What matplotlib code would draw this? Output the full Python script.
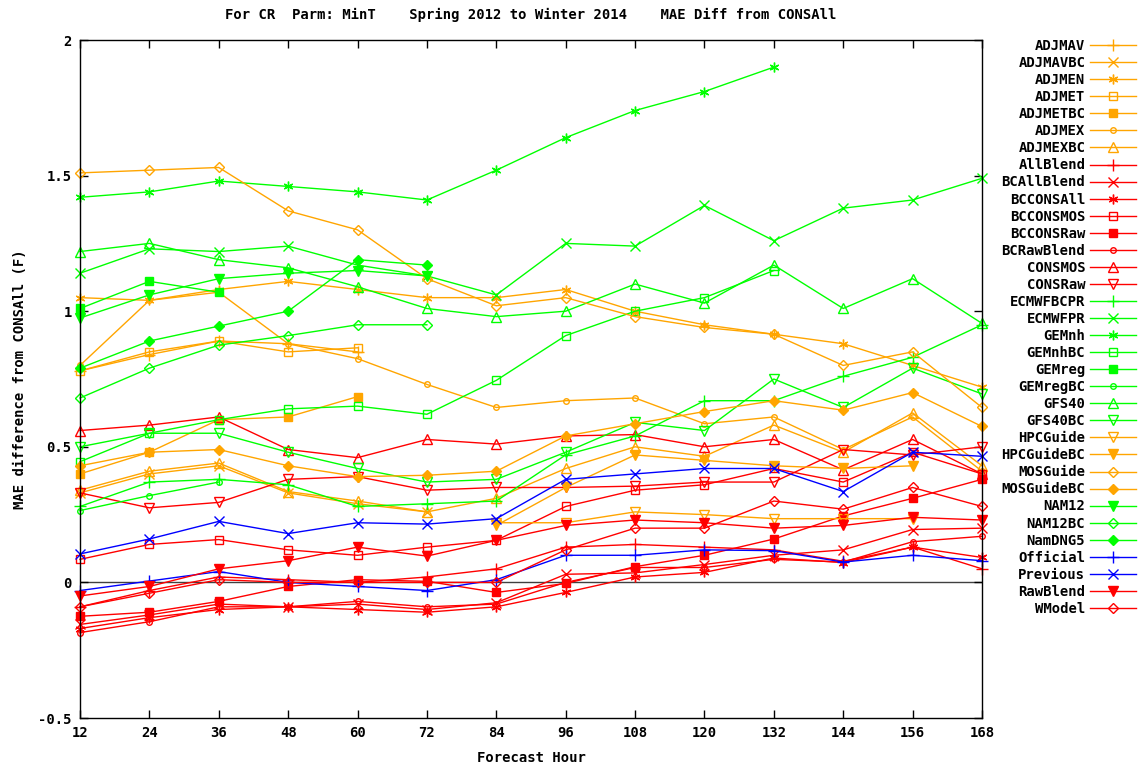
import numpy as np
import matplotlib
matplotlib.use('Agg')
from matplotlib import pyplot as plt

nan = np.nan

hours = [12, 24, 36, 48, 60, 72, 84, 96, 108, 120, 132, 144, 156, 168]

# MAE difference from CONSAll, one list per guidance (nan = no data)
ADJMAV = [0.78, 0.84, 0.89, 0.88, 0.85, nan, nan, nan, nan, nan, nan, nan, nan, nan]
ADJMAVBC = [0.33, 0.40, 0.43, 0.33, 0.29, 0.26, nan, nan, nan, nan, nan, nan, nan, nan]
ADJMEN = [1.05, 1.04, 1.08, 1.11, 1.08, 1.05, 1.05, 1.08, 1.00, 0.95, 0.915, 0.88, 0.80, 0.72]
ADJMET = [0.78, 0.85, 0.89, 0.85, 0.865, nan, nan, nan, nan, nan, nan, nan, nan, nan]
ADJMETBC = [0.40, 0.48, 0.60, 0.61, 0.685, nan, nan, nan, nan, nan, nan, nan, nan, nan]
ADJMEX = [0.80, 1.04, 1.07, 0.88, 0.825, 0.73, 0.645, 0.67, 0.68, 0.585, 0.61, 0.49, 0.61, 0.41]
ADJMEXBC = [0.34, 0.41, 0.44, 0.335, 0.30, 0.26, 0.31, 0.42, 0.50, 0.465, 0.58, 0.48, 0.625, 0.43]
AllBlend = [-0.09, -0.03, 0.02, 0.01, 0.0, 0.02, 0.05, 0.13, 0.14, 0.13, 0.12, 0.078, 0.13, 0.05]
BCAllBlend = [-0.155, -0.12, -0.08, -0.09, -0.08, -0.10, -0.075, 0.03, 0.035, 0.066, 0.10, 0.12, 0.195, 0.20]
BCCONSAll = [-0.17, -0.13, -0.10, -0.09, -0.10, -0.11, -0.09, -0.037, 0.02, 0.037, 0.09, 0.073, 0.13, 0.092]
BCCONSMOS = [0.085, 0.14, 0.158, 0.12, 0.10, 0.13, 0.155, 0.28, 0.34, 0.36, 0.42, 0.37, 0.48, 0.40]
BCCONSRaw = [-0.125, -0.11, -0.07, -0.015, 0.01, 0.004, -0.037, -0.004, 0.058, 0.10, 0.16, 0.245, 0.31, 0.38]
BCRawBlend = [-0.185, -0.145, -0.09, -0.09, -0.07, -0.09, -0.08, 0.0, 0.055, 0.055, 0.085, 0.075, 0.15, 0.17]
CONSMOS = [0.56, 0.58, 0.61, 0.49, 0.46, 0.527, 0.51, 0.54, 0.545, 0.50, 0.527, 0.415, 0.527, 0.40]
CONSRaw = [0.33, 0.275, 0.295, 0.38, 0.39, 0.34, 0.35, 0.35, 0.355, 0.37, 0.37, 0.49, 0.47, 0.50]
ECMWFBCPR = [0.28, 0.37, 0.38, 0.36, 0.28, 0.29, 0.30, 0.47, 0.54, 0.67, 0.67, 0.76, 0.83, 0.95]
ECMWFPR = [1.14, 1.23, 1.22, 1.24, 1.17, 1.13, 1.06, 1.25, 1.24, 1.39, 1.26, 1.38, 1.41, 1.49]
GEMnh = [1.42, 1.44, 1.48, 1.46, 1.44, 1.41, 1.52, 1.64, 1.74, 1.81, 1.90, nan, nan, nan]
GEMnhBC = [0.445, 0.55, 0.60, 0.64, 0.65, 0.62, 0.745, 0.91, 1.00, 1.05, 1.15, nan, nan, nan]
GEMreg = [1.01, 1.11, 1.07, nan, nan, nan, nan, nan, nan, nan, nan, nan, nan, nan]
GEMregBC = [0.265, 0.32, 0.37, nan, nan, nan, nan, nan, nan, nan, nan, nan, nan, nan]
GFS40 = [1.22, 1.25, 1.19, 1.16, 1.09, 1.01, 0.98, 1.00, 1.10, 1.03, 1.17, 1.01, 1.12, 0.955]
GFS40BC = [0.50, 0.55, 0.55, 0.48, 0.42, 0.37, 0.38, 0.48, 0.59, 0.56, 0.75, 0.645, 0.79, 0.695]
HPCGuide = [nan, nan, nan, nan, nan, nan, 0.22, 0.22, 0.26, 0.25, 0.235, 0.235, 0.235, nan]
HPCGuideBC = [nan, nan, nan, nan, nan, nan, 0.21, 0.35, 0.47, 0.45, 0.43, 0.42, 0.43, nan]
MOSGuide = [1.51, 1.52, 1.53, 1.37, 1.30, 1.12, 1.02, 1.05, 0.98, 0.94, 0.915, 0.80, 0.85, 0.645]
MOSGuideBC = [0.43, 0.48, 0.49, 0.43, 0.39, 0.395, 0.41, 0.54, 0.585, 0.63, 0.67, 0.635, 0.70, 0.575]
NAM12 = [0.975, 1.06, 1.12, 1.14, 1.15, 1.13, nan, nan, nan, nan, nan, nan, nan, nan]
NAM12BC = [0.68, 0.79, 0.875, 0.91, 0.95, 0.95, nan, nan, nan, nan, nan, nan, nan, nan]
NamDNG5 = [0.79, 0.89, 0.945, 1.00, 1.19, 1.17, nan, nan, nan, nan, nan, nan, nan, nan]
Official = [-0.03, 0.005, 0.04, 0.0, -0.015, -0.03, 0.01, 0.10, 0.10, 0.12, 0.117, 0.075, 0.10, 0.08]
Previous = [0.105, 0.16, 0.225, 0.18, 0.22, 0.215, 0.235, 0.38, 0.40, 0.42, 0.42, 0.335, 0.48, 0.465]
RawBlend = [-0.05, -0.015, 0.05, 0.08, 0.13, 0.097, 0.155, 0.21, 0.23, 0.22, 0.20, 0.21, 0.24, 0.23]
WModel = [-0.09, -0.04, 0.01, 0.0, 0.0, 0.0, 0.0, 0.12, 0.20, 0.20, 0.30, 0.27, 0.35, 0.28]

ORANGE = '#ffa500'
RED = '#ff0000'
GREEN = '#00ff00'
BLUE = '#0000ff'
ASTER = (6, 2, 0)

# name, values, colour, marker, filled
series = [
    ('ADJMAV', ADJMAV, ORANGE, '+', False),
    ('ADJMAVBC', ADJMAVBC, ORANGE, 'x', False),
    ('ADJMEN', ADJMEN, ORANGE, ASTER, False),
    ('ADJMET', ADJMET, ORANGE, 's', False),
    ('ADJMETBC', ADJMETBC, ORANGE, 's', True),
    ('ADJMEX', ADJMEX, ORANGE, 'o', False),
    ('ADJMEXBC', ADJMEXBC, ORANGE, '^', False),
    ('AllBlend', AllBlend, RED, '+', False),
    ('BCAllBlend', BCAllBlend, RED, 'x', False),
    ('BCCONSAll', BCCONSAll, RED, ASTER, False),
    ('BCCONSMOS', BCCONSMOS, RED, 's', False),
    ('BCCONSRaw', BCCONSRaw, RED, 's', True),
    ('BCRawBlend', BCRawBlend, RED, 'o', False),
    ('CONSMOS', CONSMOS, RED, '^', False),
    ('CONSRaw', CONSRaw, RED, 'v', False),
    ('ECMWFBCPR', ECMWFBCPR, GREEN, '+', False),
    ('ECMWFPR', ECMWFPR, GREEN, 'x', False),
    ('GEMnh', GEMnh, GREEN, ASTER, False),
    ('GEMnhBC', GEMnhBC, GREEN, 's', False),
    ('GEMreg', GEMreg, GREEN, 's', True),
    ('GEMregBC', GEMregBC, GREEN, 'o', False),
    ('GFS40', GFS40, GREEN, '^', False),
    ('GFS40BC', GFS40BC, GREEN, 'v', False),
    ('HPCGuide', HPCGuide, ORANGE, 'v', False),
    ('HPCGuideBC', HPCGuideBC, ORANGE, 'v', True),
    ('MOSGuide', MOSGuide, ORANGE, 'D', False),
    ('MOSGuideBC', MOSGuideBC, ORANGE, 'D', True),
    ('NAM12', NAM12, GREEN, 'v', True),
    ('NAM12BC', NAM12BC, GREEN, 'D', False),
    ('NamDNG5', NamDNG5, GREEN, 'D', True),
    ('Official', Official, BLUE, '+', False),
    ('Previous', Previous, BLUE, 'x', False),
    ('RawBlend', RawBlend, RED, 'v', True),
    ('WModel', WModel, RED, 'D', False),
]

plt.rcParams['font.family'] = ['DejaVu Sans Mono']
plt.rcParams['font.weight'] = 'bold'
plt.rcParams['font.size'] = 10

fig = plt.figure(figsize=(11.47, 7.74), dpi=100)
ax = fig.add_axes([80 / 1147, 1 - 718 / 774, 902 / 1147, 678 / 774])

sizes = {'+': 8, 'x': 6.5, 's': 6, 'o': 4, '^': 6.5, 'v': 6.5, 'D': 5}

handles = []
for name, vals, col, mk, filled in series:
    ms = sizes.get(mk, 7) if isinstance(mk, str) else 7
    line, = ax.plot(hours, vals, color=col, lw=1, marker=mk, markersize=ms,
                    markerfacecolor=col if filled else 'none',
                    markeredgecolor=col, markeredgewidth=1, label=name,
                    clip_on=False)
    handles.append(line)

ax.axhline(0, color='#404040', lw=1, zorder=0)

ax.set_xlim(12, 168)
ax.set_ylim(-0.5, 2)
ax.set_xticks(hours)
ax.set_yticks([-0.5, 0, 0.5, 1, 1.5, 2])
ax.set_yticklabels(['-0.5', '0', '0.5', '1', '1.5', '2'])
ax.tick_params(direction='in', length=6, width=1, top=True, right=True,
               labelsize=10, pad=6)
for sp in ax.spines.values():
    sp.set_linewidth(1)

ax.set_title('For CR  Parm: MinT    Spring 2012 to Winter 2014    MAE Diff from CONSAll',
             fontsize=10, fontweight='bold', pad=15)
ax.set_xlabel('Forecast Hour', fontsize=10, fontweight='bold', labelpad=8)
ax.set_ylabel('MAE difference from CONSAll (F)', fontsize=10, fontweight='bold', labelpad=8)

fig.legend(handles=handles, loc='upper right', bbox_to_anchor=(1136 / 1147, 1 - 39 / 774),
           markerfirst=False, frameon=False, borderpad=0, handlelength=3.3,
           handletextpad=0.35, labelspacing=0.22, fontsize=10, borderaxespad=0)

fig.savefig('out.png', dpi=100)
